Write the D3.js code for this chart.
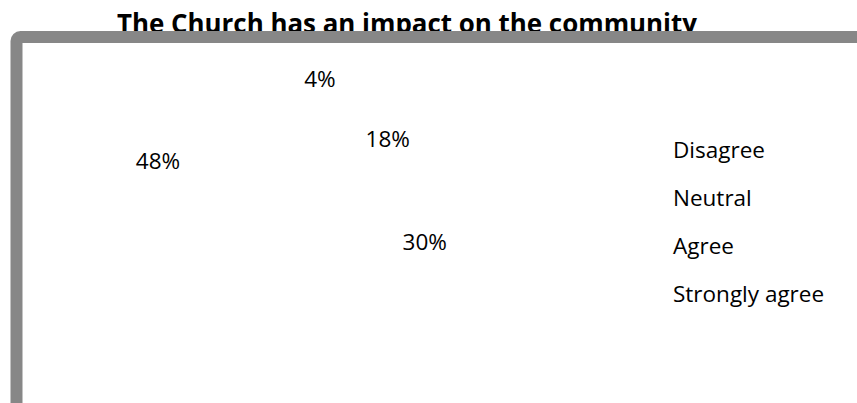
<!DOCTYPE html>
<html>
<head>
<meta charset="utf-8">
<script src="https://cdn.jsdelivr.net/npm/d3@7"></script>
<style>
  html, body { margin: 0; padding: 0; background: #fff; }
  svg { display: block; }
</style>
</head>
<body>
<svg id="chart" width="857" height="403"></svg>
<script>
// Survey responses
const categories = ["Disagree", "Neutral", "Agree", "Strongly agree"];
const shares = [4, 18, 30, 48];
const title = "The Church has an impact on the community";

// Slice colours (white slices on a white plot area)
const sliceColors = ["#ffffff", "#ffffff", "#ffffff", "#ffffff"];

// Label placement around the pie: distance from centre and turn from slice bisector (degrees)
const labelRadius = [103, 63, 105, 183];
const labelTurn = [-18.4, 2.4, -7, 2.4];

const W = 857, H = 403;
const svg = d3.select("#chart");
const font = "'Open Sans', 'DejaVu Sans', sans-serif";

const cx = 340, cy = 180, pieR = 125;

const data = categories.map((c, i) => ({ name: c, value: shares[i], i }));
const pie = d3.pie().value(d => d.value).sort(null);
const arcs = pie(data);
const arc = d3.arc().innerRadius(0).outerRadius(pieR);

// Title (the frame is drawn over its lower edge)
svg.append("text")
  .attr("x", 407).attr("y", 33)
  .attr("text-anchor", "middle")
  .attr("font-family", font)
  .attr("font-weight", "bold")
  .attr("font-size", 26.5)
  .attr("textLength", 580)
  .attr("lengthAdjust", "spacingAndGlyphs")
  .attr("fill", "#000")
  .text(title);

// Chart frame
svg.append("rect")
  .attr("x", 16.5).attr("y", 37)
  .attr("width", 1000).attr("height", 600)
  .attr("rx", 4)
  .attr("fill", "#fff")
  .attr("stroke", "#878787")
  .attr("stroke-width", 12);

// Pie slices
const g = svg.append("g").attr("transform", `translate(${cx},${cy})`);
g.selectAll("path.slice")
  .data(arcs)
  .join("path")
  .attr("class", "slice")
  .attr("d", arc)
  .attr("fill", d => sliceColors[d.data.i]);

// Percentage labels
const fs = 22.5;
g.selectAll("text.pct")
  .data(arcs)
  .join("text")
  .attr("class", "pct")
  .attr("transform", d => {
    const a = (d.startAngle + d.endAngle) / 2 + labelTurn[d.data.i] * Math.PI / 180;
    const r = labelRadius[d.data.i];
    const x = r * Math.sin(a);
    const y = -r * Math.cos(a) + fs * 0.357;
    return `translate(${x},${y})`;
  })
  .attr("text-anchor", "middle")
  .attr("font-family", font)
  .attr("font-size", fs)
  .attr("fill", "#000")
  .text(d => d3.format(".0f")(d.data.value) + "%");

// Legend
const legendY = d3.scalePoint().domain(categories).range([158.3, 301.7]);
const legend = svg.append("g");
const items = legend.selectAll("g")
  .data(data)
  .join("g")
  .attr("transform", d => `translate(673,${legendY(d.name)})`);
items.append("rect")
  .attr("x", -20).attr("y", -13)
  .attr("width", 11).attr("height", 11)
  .attr("fill", d => sliceColors[d.i]);
items.append("text")
  .attr("x", 0).attr("y", 0)
  .attr("font-family", font)
  .attr("font-size", fs)
  .attr("fill", "#000")
  .text(d => d.name);
</script>
</body>
</html>
